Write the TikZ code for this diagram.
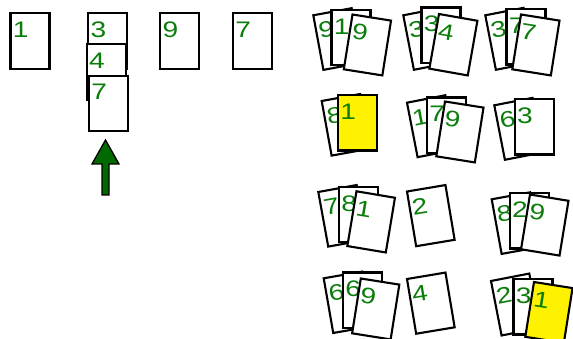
\documentclass[tikz,border=0pt]{standalone}
\usepackage{fontspec}
\setmainfont{Liberation Sans}
\usepackage{graphicx}
\definecolor{digitgreen}{RGB}{10,125,10}
\definecolor{arrowgreen}{RGB}{0,105,0}
\tikzset{
  cardbox/.style={draw=black, line width=2.1pt, minimum width=39pt, minimum height=55.5pt,
    inner sep=0pt, outer sep=0pt, anchor=north west},
  digit/.style={anchor=base west, inner sep=0pt, outer sep=0pt, text=digitgreen,
    font=\fontsize{22.5}{22.5}\selectfont},
  blockarrow/.style={draw=black, line width=1.3pt, fill=arrowgreen, line join=miter}
}
% name, x, y (top-left corner, screen coords), rotation, digit, fill
\newcommand{\crd}[6]{%
  \begin{scope}[shift={(#2,#3)}, rotate=#4, transform shape]
    \node[cardbox, fill=#6] (#1) at (0pt,0pt) {};
    \node[digit] (#1d) at (2.4pt,-24.3pt) {\scalebox{1.25}[1]{#5}};
  \end{scope}}
\begin{document}
\begin{tikzpicture}[x=1pt, y=-1pt]
\useasboundingbox (0,0) rectangle (573,339);
% left row
\crd{l1}{10.5}{13.3}{0}{1}{white}
\crd{l3}{88.3}{13.3}{0}{3}{white}
\crd{l4}{86.7}{44}{0}{4}{white}
\crd{l7}{89}{75.7}{0}{7}{white}
\crd{l9}{160.3}{13.3}{0}{9}{white}
\crd{l7b}{233}{13.3}{0}{7}{white}
% arrow
\coordinate (tip) at (105.5,140);
\draw[blockarrow] (tip) -- (119,164) -- (109,164) -- (109,195) -- (102,195) -- (102,164) -- (92,164) -- cycle;
% row 1
\crd{a1}{313.3}{15.3}{10.5}{9}{white}
\crd{a2}{331.5}{9.8}{0}{1}{white}
\crd{a3}{352.5}{14.5}{-9}{9}{white}
\crd{b1}{403.3}{15.3}{11}{3}{white}
\crd{b2}{421.5}{7.5}{0}{3}{white}
\crd{b3}{439}{14}{-10}{4}{white}
\crd{c1}{485.3}{15.3}{11}{3}{white}
\crd{c2}{506.5}{9}{0}{7}{white}
\crd{c3}{521}{14.5}{-9}{7}{white}
% row 2
\crd{d1}{321.7}{101}{10.3}{8}{white}
\crd{d2}{338}{95}{0}{1}{yellow}
\crd{e1}{407}{102.7}{11}{1}{white}
\crd{e2}{427}{97.5}{0}{7}{white}
\crd{e3}{445}{101.5}{-9}{9}{white}
\crd{f1}{494.3}{105.3}{11}{6}{white}
\crd{f2}{514.8}{99}{0}{3}{white}
% row 3
\crd{g1}{318.3}{192}{10.3}{7}{white}
\crd{g2}{339}{186.8}{0}{8}{white}
\crd{g3}{356.5}{191.3}{-9.5}{1}{white}
\crd{h1}{407}{191.5}{9.5}{2}{white}
\crd{i1}{491.7}{199.3}{10.3}{8}{white}
\crd{i2}{509.8}{193}{0}{2}{white}
\crd{i3}{530}{194.5}{-9.3}{9}{white}
% row 4
\crd{j1}{323.7}{278.3}{9.9}{6}{white}
\crd{j2}{343}{272.5}{0}{6}{white}
\crd{j3}{360.8}{278.5}{-9}{9}{white}
\crd{k1}{407}{279}{9.5}{4}{white}
\crd{m1}{491}{281}{11}{2}{white}
\crd{m2}{513.5}{279}{0}{3}{white}
\crd{m3}{534}{282}{-9}{1}{yellow}
\end{tikzpicture}
\end{document}
